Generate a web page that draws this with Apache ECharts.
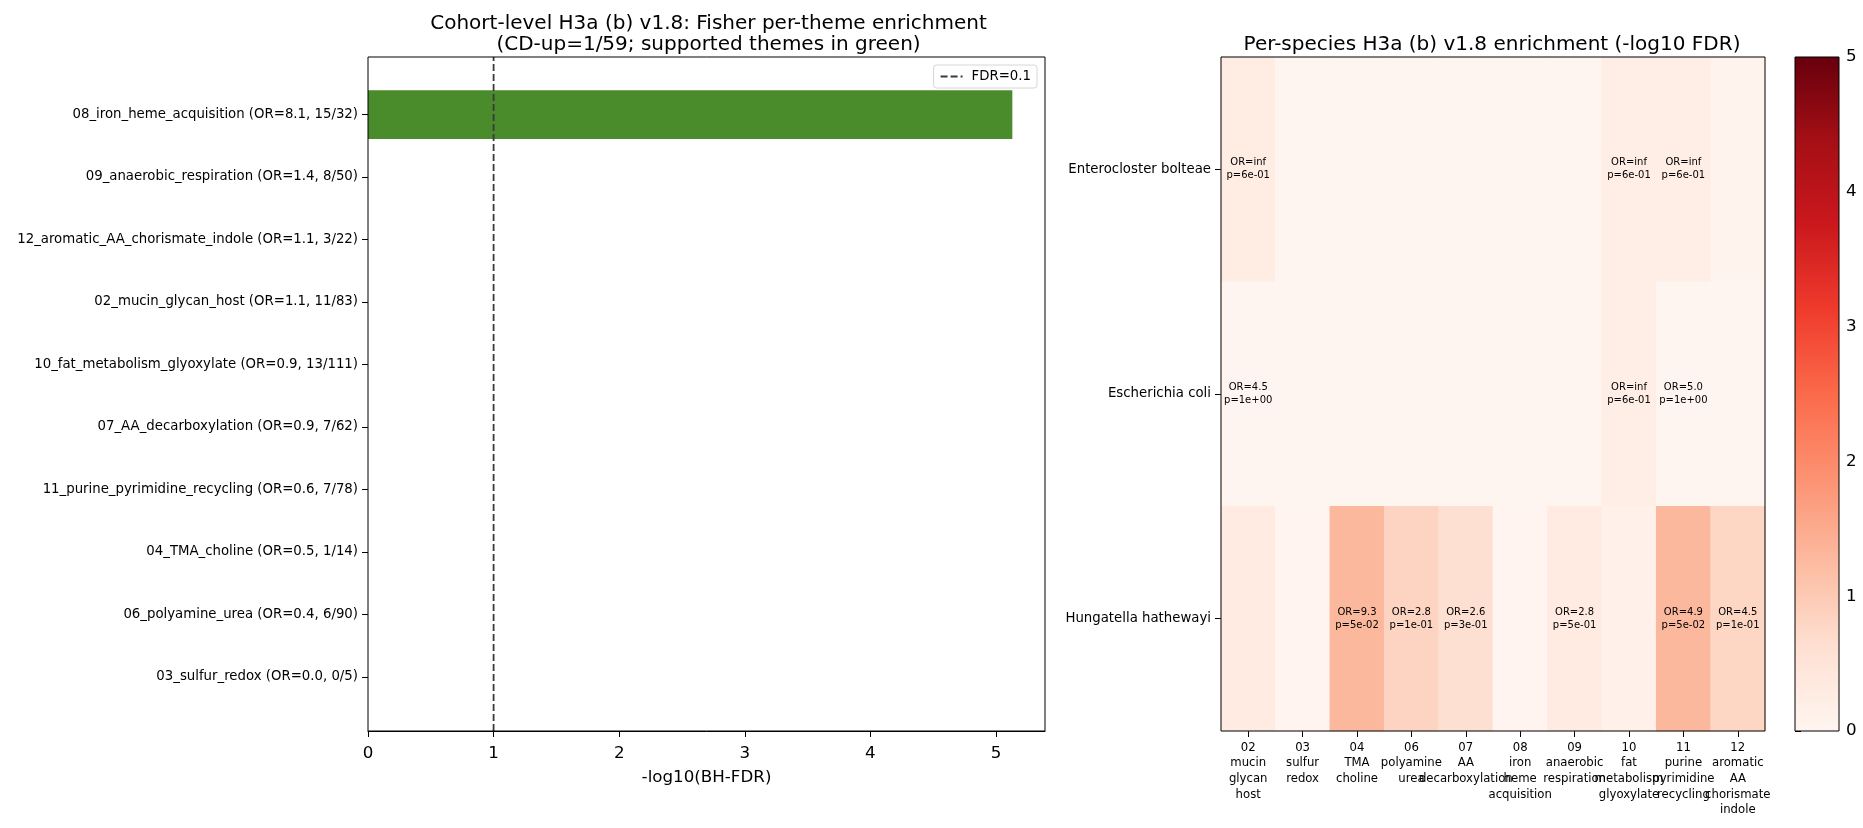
<!DOCTYPE html>
<html>
<head>
<meta charset="utf-8">
<script src="https://cdn.jsdelivr.net/npm/echarts@6/dist/echarts.min.js"></script>
<style>
html,body{margin:0;padding:0;background:#fff;}
#chart{width:1863px;height:828px;}
</style>
</head>
<body>
<div id="chart"></div>
<script>
// ---- Left panel data (top to bottom) ----
const themes = ['08_iron_heme_acquisition','09_anaerobic_respiration','12_aromatic_AA_chorismate_indole','02_mucin_glycan_host','10_fat_metabolism_glyoxylate','07_AA_decarboxylation','11_purine_pyrimidine_recycling','04_TMA_choline','06_polyamine_urea','03_sulfur_redox'];
const themeOR = [8.1, 1.4, 1.1, 1.1, 0.9, 0.9, 0.6, 0.5, 0.4, 0.0];
const themeHits = ['15/32','8/50','3/22','11/83','13/111','7/62','7/78','1/14','6/90','0/5'];
const themeNegLogFDR = [5.13, 0, 0, 0, 0, 0, 0, 0, 0, 0];
const themeSupported = [true, false, false, false, false, false, false, false, false, false];
const fdrLine = 1;
const xTicksLeft = [0, 1, 2, 3, 4, 5];

// ---- Right panel data ----
const heatThemeLabels = ['02\nmucin\nglycan\nhost','03\nsulfur\nredox','04\nTMA\ncholine','06\npolyamine\nurea','07\nAA\ndecarboxylation','08\niron\nheme\nacquisition','09\nanaerobic\nrespiration','10\nfat\nmetabolism\nglyoxylate','11\npurine\npyrimidine\nrecycling','12\naromatic\nAA\nchorismate\nindole'];
const species = ['Enterocloster bolteae','Escherichia coli','Hungatella hathewayi'];
const enteroVals = [0.25, 0, 0, 0, 0, 0, 0, 0.22, 0.22, 0.05];
const ecoliVals  = [0, 0, 0, 0, 0, 0, 0, 0.22, 0, 0];
const hungVals   = [0.3, 0.03, 1.3, 0.83, 0.62, 0.02, 0.3, 0.15, 1.3, 0.8];
const enteroText = ['OR=inf\np=6e-01','','','','','','','OR=inf\np=6e-01','OR=inf\np=6e-01',''];
const ecoliText  = ['OR=4.5\np=1e+00','','','','','','','OR=inf\np=6e-01','OR=5.0\np=1e+00',''];
const hungText   = ['','','OR=9.3\np=5e-02','OR=2.8\np=1e-01','OR=2.6\np=3e-01','','OR=2.8\np=5e-01','','OR=4.9\np=5e-02','OR=4.5\np=1e-01'];
const colorbarRange = [0, 5];
const colorbarTicks = [0, 1, 2, 3, 4, 5];
const redsCmap = ['#fff5f0','#fee0d2','#fcbba1','#fc9272','#fb6a4a','#ef3b2c','#cb181d','#a50f15','#67000d'];

const FONT = 'DejaVu Sans';
const themeLabels = themes.map((t, i) => `${t} (OR=${themeOR[i].toFixed(1)}, ${themeHits[i]})`);
const rowVals = [enteroVals, ecoliVals, hungVals];
const rowText = [enteroText, ecoliText, hungText];
const heatData = [];
rowVals.forEach((row, r) => row.forEach((v, c) => heatData.push([c, r, v])));

const L = 368, LW = 677, T = 57, H = 674;
const HL = 1221, HW = 544;
const CL = 1795, CW = 44;
const TICK = {show: true, inside: false, length: 6, lineStyle: {color: '#000', width: 1}};
const HIDDEN = {show: false, axisLine: {show: false}, axisTick: {show: false}, axisLabel: {show: false}, splitLine: {show: false}};

const chart = echarts.init(document.getElementById('chart'));
chart.setOption({
  animation: false,
  backgroundColor: '#fff',
  textStyle: {fontFamily: FONT},
  title: [
    {text: 'Cohort-level H3a (b) v1.8: Fisher per-theme enrichment\n(CD-up=1/59; supported themes in green)',
     left: L + LW/2 - 3, top: 8, textAlign: 'center',
     textStyle: {fontFamily: FONT, fontSize: 20, fontWeight: 'normal', color: '#000', lineHeight: 21}},
    {text: 'Per-species H3a (b) v1.8 enrichment (-log10 FDR)',
     left: HL + HW/2 - 6, top: 30, textAlign: 'center',
     textStyle: {fontFamily: FONT, fontSize: 20, fontWeight: 'normal', color: '#000'}}
  ],
  legend: {
    data: ['FDR=0.1'], right: 1863 - 1037, top: 65,
    backgroundColor: '#fff', borderColor: '#d6d6d6', borderWidth: 1, borderRadius: 3,
    padding: [5, 6], itemWidth: 22, itemHeight: 12, itemGap: 5,
    itemStyle: {opacity: 0},
    textStyle: {fontFamily: FONT, fontSize: 13.3, color: '#000', padding: [0, 0, 0, 4]}
  },
  grid: [
    {left: L, top: T, width: LW, height: H, show: true, borderColor: '#000', borderWidth: 1, backgroundColor: 'transparent', z: 10},
    {left: L, top: 83.25, width: LW, height: 625},
    {left: HL, top: T, width: HW, height: H, show: true, borderColor: '#000', borderWidth: 1, backgroundColor: 'transparent', z: 10},
    {left: CL, top: T, width: CW, height: H}
  ],
  xAxis: [
    {type: 'value', gridIndex: 0, min: 0, max: 5.39, interval: 1,
     splitLine: {show: false},
     axisLine: {show: true, lineStyle: {color: '#000', width: 1}},
     axisTick: TICK,
     axisLabel: {fontFamily: FONT, fontSize: 16.7, color: '#000', margin: 14, showMaxLabel: false,
                 formatter: v => xTicksLeft.includes(v) ? String(v) : ''},
     name: '-log10(BH-FDR)', nameLocation: 'middle', nameGap: 38,
     nameTextStyle: {fontFamily: FONT, fontSize: 16.7, color: '#000'}},
    Object.assign({type: 'value', gridIndex: 1, min: 0, max: 5.39}, HIDDEN),
    {type: 'category', gridIndex: 2, data: heatThemeLabels,
     axisLine: {show: false},
     axisTick: Object.assign({alignWithLabel: true}, TICK),
     axisLabel: {interval: 0, fontFamily: FONT, fontSize: 11.7, color: '#000', lineHeight: 15.6, margin: 9}},
    Object.assign({type: 'value', gridIndex: 3, min: 0, max: 1}, HIDDEN)
  ],
  yAxis: [
    Object.assign({type: 'value', gridIndex: 0, min: 0, max: 1}, HIDDEN),
    {type: 'category', gridIndex: 1, data: themeLabels, inverse: true,
     axisLine: {show: false},
     axisTick: Object.assign({alignWithLabel: true}, TICK),
     axisLabel: {fontFamily: FONT, fontSize: 13.3, color: '#000', margin: 10}},
    {type: 'category', gridIndex: 2, data: species, inverse: true,
     axisLine: {show: false},
     axisTick: Object.assign({alignWithLabel: true}, TICK),
     axisLabel: {fontFamily: FONT, fontSize: 13.3, color: '#000', margin: 10}},
    {type: 'value', gridIndex: 3, min: colorbarRange[0], max: colorbarRange[1], interval: 1, position: 'right',
     splitLine: {show: false}, axisLine: {show: false},
     axisTick: TICK,
     axisLabel: {fontFamily: FONT, fontSize: 16.7, color: '#000', margin: 7,
                 formatter: v => colorbarTicks.includes(v) ? String(v) : ''}}
  ],
  visualMap: {
    type: 'continuous', show: false, min: colorbarRange[0], max: colorbarRange[1], seriesIndex: 2,
    inRange: {color: redsCmap}
  },
  series: [
    {type: 'bar', xAxisIndex: 1, yAxisIndex: 1, barWidth: '78%',
     data: themeNegLogFDR.map((v, i) => ({value: v, itemStyle: {color: themeSupported[i] ? '#4a8b2c' : '#9e9e9e'}}))},
    {type: 'line', name: 'FDR=0.1', xAxisIndex: 0, yAxisIndex: 0, symbol: 'none',
     data: [[fdrLine, 0], [fdrLine, 1]], z: 5,
     lineStyle: {color: '#3a3a3a', width: 1.8, type: [7, 3]}, itemStyle: {color: '#3a3a3a'}},
    {type: 'heatmap', xAxisIndex: 2, yAxisIndex: 2, data: heatData,
     label: {show: true, fontFamily: FONT, fontSize: 10, color: '#000', lineHeight: 13,
             formatter: p => rowText[p.data[1]][p.data[0]]},
     emphasis: {disabled: true}},
    {type: 'custom', xAxisIndex: 3, yAxisIndex: 3, silent: true, z: 20,
     data: [[0, colorbarRange[0], 1, colorbarRange[1]]],
     renderItem: (params, api) => {
       const p0 = api.coord([api.value(0), api.value(1)]);
       const p1 = api.coord([api.value(2), api.value(3)]);
       return {
         type: 'rect',
         shape: {x: p0[0], y: p1[1], width: p1[0] - p0[0], height: p0[1] - p1[1]},
         style: {stroke: '#000', lineWidth: 1,
           fill: new echarts.graphic.LinearGradient(0, 1, 0, 0,
             redsCmap.map((c, i) => ({offset: i / (redsCmap.length - 1), color: c})))}
       };
     }}
  ]
});
</script>
</body>
</html>
